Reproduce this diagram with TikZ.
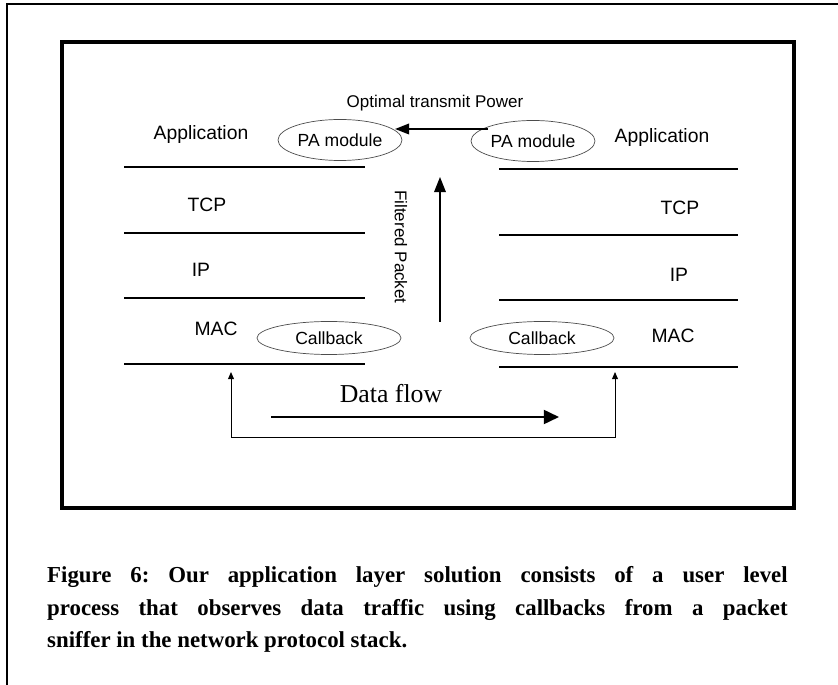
\documentclass[tikz,border=0pt]{standalone}
\usepackage{fontspec}
\setmainfont{Liberation Serif}
\newfontfamily\arial{Liberation Sans}
\usetikzlibrary{shapes.geometric, arrows.meta, positioning}

\tikzset{
  layer/.style={font=\arial\fontsize{16.5}{18}\selectfont},
  pamod/.style={ellipse, draw=black!70, line width=0.6pt, minimum width=3.72cm, minimum height=1.23cm, inner sep=0pt, font=\arial\fontsize{15}{16}\selectfont},
  cbmod/.style={ellipse, draw=black!70, line width=0.6pt, minimum width=4.32cm, minimum height=0.99cm, inner sep=0pt, font=\arial\fontsize{15}{16}\selectfont},
  stackline/.style={line width=2.3pt},
}

\begin{document}
\frenchspacing
\begin{tikzpicture}[x=0.03cm, y=-0.03cm]
  \useasboundingbox (0,0) rectangle (838,685);
  % frames
  \draw[line width=1.7pt] (7,685) -- (7,4) -- (838,4);
  \draw[line width=3.7pt] (62,42) rectangle (794,508);

  % left stack
  \foreach \y in {167,233,298,364} \draw[stackline] (124,\y) -- (365,\y);
  \node[layer] (lapp) at (201,135) {Application};
  \node[layer] (ltcp) at (207,205) {TCP};
  \node[layer] (lip)  at (201,270) {IP};
  \node[layer] (lmac) at (216,329) {MAC};
  \node[pamod] (lpa) at (340,140) {PA module};
  \node[cbmod] (lcb) at (329,338) {Callback};

  % right stack
  \foreach \y in {169,235,300,367} \draw[stackline] (499,\y) -- (738,\y);
  \node[layer] (rapp) at (662,138) {Application};
  \node[layer] (rtcp) at (680,208) {TCP};
  \node[layer] (rip)  at (679,275) {IP};
  \node[layer] (rmac) at (673,336) {MAC};
  \node[pamod] (rpa) at (533,141) {PA module};
  \node[cbmod] (rcb) at (542,338) {Callback};

  % power feedback
  \coordinate (pwfrom) at (488,129);
  \coordinate (pwto) at (395,129);
  \draw[line width=1.5pt, -{Triangle[length=12pt,width=9pt]}] (pwfrom) -- (pwto);
  \node[font=\arial\fontsize{14.5}{16}\selectfont] (power) at (435,103) {Optimal transmit Power};

  % filtered packet
  \coordinate (fpbot) at (440,322);
  \coordinate (fptop) at (440,177);
  \draw[line width=1.2pt, -{Triangle[length=13pt,width=10pt]}] (fpbot) -- (fptop);
  \node[rotate=-90, font=\arial\fontsize{14.5}{16}\selectfont] (filt) at (401,247) {Filtered Packet};

  % data flow
  \coordinate (lbot) at (231,372);
  \coordinate (rbot) at (615,372);
  \draw[line width=0.8pt, {Triangle[length=6pt,width=5pt]}-{Triangle[length=6pt,width=5pt]}] (lbot) -- (231,437) -- (615,437) -- (rbot);
  \coordinate (dfa) at (271,417);
  \coordinate (dfb) at (559,417);
  \draw[line width=1.8pt, -{Triangle[length=13pt,width=12pt]}] (dfa) -- (dfb);
  \node[font=\fontsize{22}{24}\selectfont] (dflow) at (391,394) {Data flow};

  % caption
  \node[anchor=north west, text width=632pt, align=justify, inner sep=0pt,
        font=\bfseries\fontsize{19.5}{28}\selectfont] (cap) at (47,566)
    {Figure 6: Our application layer solution consists of a user level\linebreak
     process that observes data traffic using callbacks from a packet\linebreak
     sniffer in the network protocol stack.};
\end{tikzpicture}
\end{document}
